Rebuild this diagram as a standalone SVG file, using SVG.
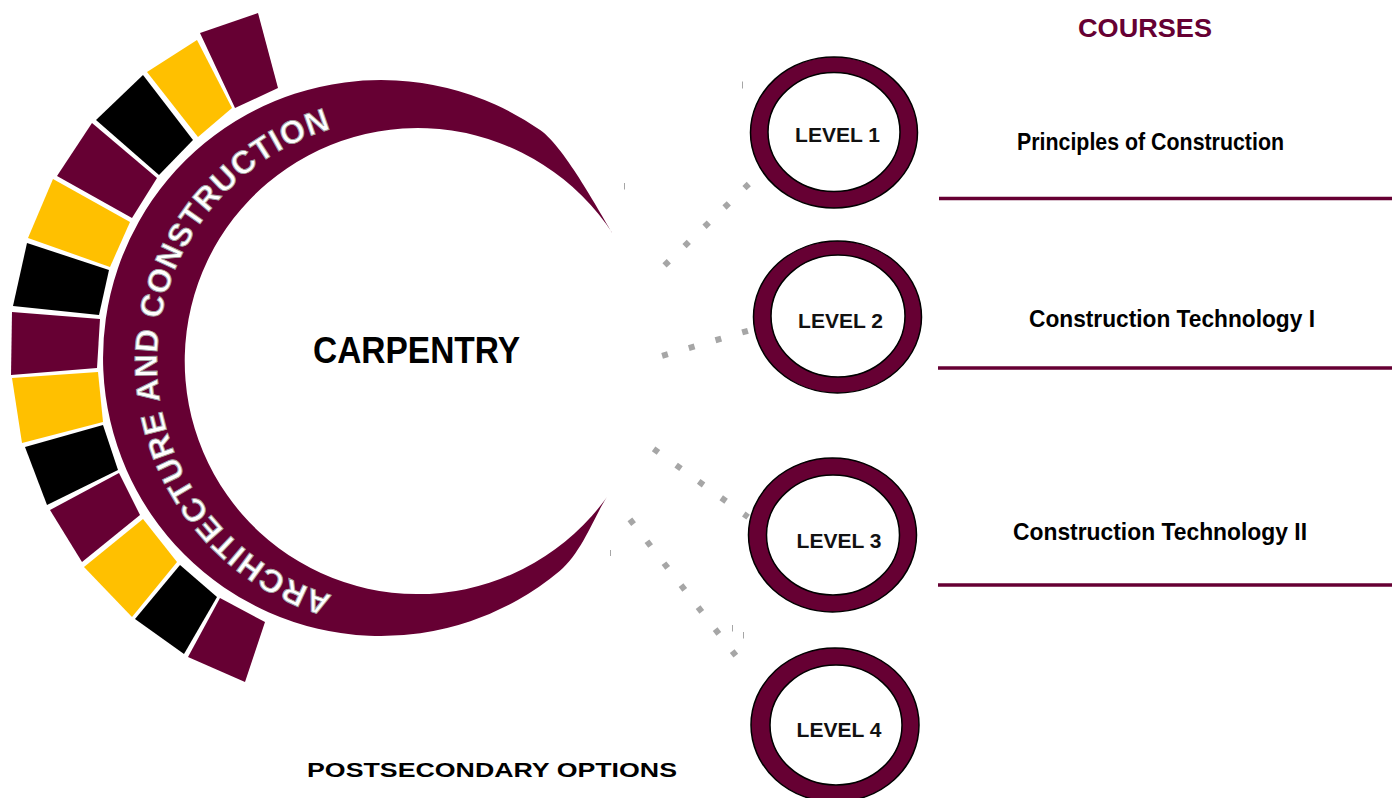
<svg xmlns="http://www.w3.org/2000/svg" width="1392" height="798" viewBox="0 0 1392 798">
  <style>
    .maroon { fill: #660033; }
    .yellow { fill: #FFC000; }
    .black { fill: #000000; }
    .ring { fill: #660033; stroke: #000000; stroke-width: 1.5; }
    .inner { fill: #ffffff; stroke: #000000; stroke-width: 1.5; }
    .lvl { font-family: "Liberation Sans", Arial, sans-serif; font-weight: bold; font-size: 21px; fill: #111111; text-anchor: middle; }
    .course { font-family: "Liberation Sans", Arial, sans-serif; font-weight: bold; font-size: 24px; fill: #000000; }
    .dots { fill: none; stroke: #A6A6A6; stroke-width: 6; stroke-dasharray: 6 21.8; }
    .rule { stroke: #660033; stroke-width: 3.5; }
    .tick { stroke: #A6A6A6; stroke-width: 1; }
    .ringtext { font-family: "Liberation Sans", Arial, sans-serif; font-weight: bold; font-size: 32px; fill: #ffffff; stroke: #a0a0a0; stroke-width: 0.9; letter-spacing: 1px; }
  </style>
  <defs>
    <path id="ringTextPath" d="M 400,605 A 243 243 0 0 1 400,119"/>
  </defs>
  <rect width="1392" height="798" fill="#ffffff"/>

  <g id="segments">
    <polygon class="maroon" points="200,33 258,13 278,88 235,108"/>
    <polygon class="yellow" points="147,72 197,40 232,108 198,137"/>
    <polygon class="black" points="96,120 143,75 193,140 159,175"/>
    <polygon class="maroon" points="57,176 92,123 157,178 132,218"/>
    <polygon class="yellow" points="28,238 53,179 130,222 110,267"/>
    <polygon class="black" points="13,306 27,243 109,270 99,315"/>
    <polygon class="maroon" points="12,312 100,319 97,368 11,375"/>
    <polygon class="yellow" points="12,378 98,372 103,422 22,443"/>
    <polygon class="black" points="25,447 103,425 118,470 47,505"/>
    <polygon class="maroon" points="50,510 119,473 140,515 82,562"/>
    <polygon class="yellow" points="84,567 143,519 177,562 132,617"/>
    <polygon class="black" points="135,619 180,565 217,597 184,654"/>
    <polygon class="maroon" points="188,657 220,598 265,622 245,682"/>
  </g>

  <g id="crescent">
    <path class="maroon" d="M 613,234 C 602,217 565,147.5 540.5,130.3 A 278 278 0 1 0 559.7,571 C 582.7,551.7 595.5,513.4 607,497 A 233 233 0 1 1 613,234 Z"/>
    <text class="ringtext" text-anchor="middle"><textPath href="#ringTextPath" startOffset="50%">ARCHITECTURE AND CONSTRUCTION</textPath></text>
  </g>

  <g id="carpentry">
    <text x="416.5" y="363" font-family="Liberation Sans, Arial, sans-serif" font-weight="bold" font-size="36" text-anchor="middle" textLength="207" lengthAdjust="spacingAndGlyphs">CARPENTRY</text>
  </g>

  <g id="connectors">
    <line class="dots" x1="664.5" y1="265.4" x2="748.9" y2="183.9"/>
    <line class="dots" x1="662.1" y1="355.8" x2="747.9" y2="330.8"/>
    <line class="dots" x1="653.6" y1="448.9" x2="748.1" y2="517.1"/>
    <line class="dots" x1="629.9" y1="519.3" x2="735.8" y2="655.7"/>
    <line class="tick" x1="624.5" y1="183" x2="624.5" y2="189.5"/>
    <line class="tick" x1="742.5" y1="81.5" x2="742.5" y2="88.5"/>
    <line class="tick" x1="610.5" y1="550" x2="610.5" y2="556"/>
    <line class="tick" x1="732.5" y1="625" x2="732.5" y2="631.5"/>
    <line class="tick" x1="743.5" y1="632" x2="743.5" y2="638.5"/>
  </g>

  <g id="level1">
    <ellipse class="ring" cx="834" cy="132.5" rx="83.5" ry="75.5"/>
    <ellipse class="inner" cx="834" cy="132" rx="66" ry="59.5"/>
    <text class="lvl" x="837.5" y="142">LEVEL 1</text>
  </g>
  <g id="level2">
    <ellipse class="ring" cx="837.5" cy="317" rx="84" ry="76"/>
    <ellipse class="inner" cx="838" cy="316" rx="67" ry="61"/>
    <text class="lvl" x="840.5" y="328">LEVEL 2</text>
  </g>
  <g id="level3">
    <ellipse class="ring" cx="832.5" cy="535" rx="84" ry="77"/>
    <ellipse class="inner" cx="833" cy="535" rx="66.5" ry="60"/>
    <text class="lvl" x="839" y="548">LEVEL 3</text>
  </g>
  <g id="level4">
    <ellipse class="ring" cx="835" cy="725" rx="84" ry="77"/>
    <ellipse class="inner" cx="836" cy="725" rx="66" ry="60"/>
    <text class="lvl" x="839" y="737">LEVEL 4</text>
  </g>

  <g id="courses-title">
    <text x="1145" y="37" font-family="Liberation Sans, Arial, sans-serif" font-weight="bold" font-size="26" fill="#660033" text-anchor="middle" textLength="134" lengthAdjust="spacingAndGlyphs">COURSES</text>
  </g>

  <g id="course1">
    <text class="course" x="1017" y="150" textLength="267" lengthAdjust="spacingAndGlyphs">Principles of Construction</text>
    <line class="rule" x1="939" y1="198.5" x2="1392" y2="198.5"/>
  </g>
  <g id="course2">
    <text class="course" x="1029" y="327" textLength="286" lengthAdjust="spacingAndGlyphs">Construction Technology I</text>
    <line class="rule" x1="938" y1="368" x2="1392" y2="368"/>
  </g>
  <g id="course3">
    <text class="course" x="1013" y="540" textLength="294" lengthAdjust="spacingAndGlyphs">Construction Technology II</text>
    <line class="rule" x1="938" y1="585" x2="1392" y2="585"/>
  </g>

  <g id="postsecondary">
    <text x="307" y="777" font-family="Liberation Sans, Arial, sans-serif" font-weight="bold" font-size="21" fill="#000000" textLength="370" lengthAdjust="spacingAndGlyphs">POSTSECONDARY OPTIONS</text>
  </g>
</svg>
